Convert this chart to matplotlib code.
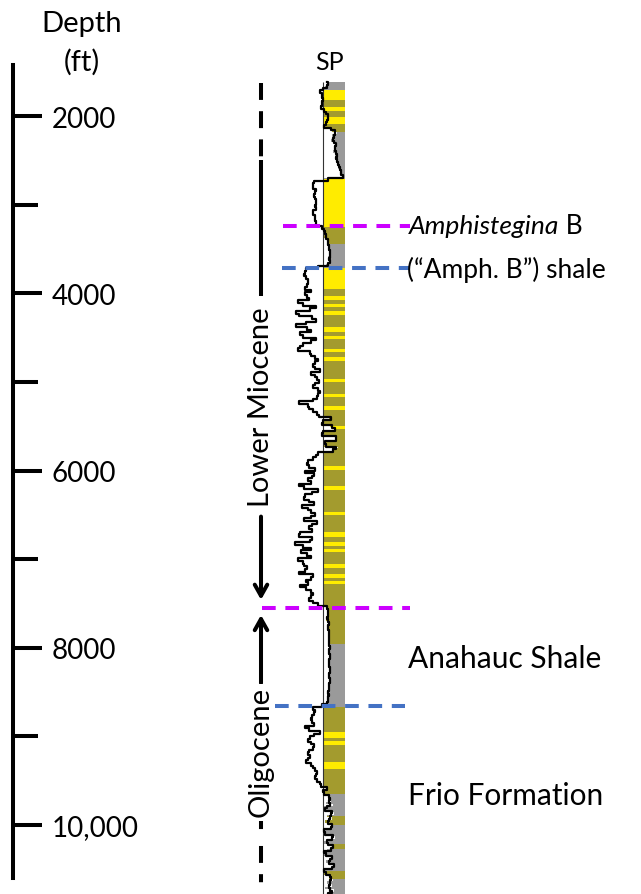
import numpy as np
import matplotlib.pyplot as plt

plt.rcParams['font.family'] = ['Lato', 'DejaVu Sans']

# SP log, sampled every 30 ft from 1620 ft (deflection, mV; negative = sand)
log_top = 1620
log_step = 30
sp = [
    4, 6, 2, -2, -4, 1, -3, 3, -5, 2,
    -6, 8, -3, 12, -2, 10, -4, 6, 9, 14,
    9, 12, 8, 14, 11, 13, 10, 15, 12, 14,
    13, 16, 15, 18, 17, 19, 20, -10, -8, -12,
    -9, -5, -12, -7, -10, -4, -11, -6, -8, -13,
    -7, -10, -6, -9, -5, 2, -1, 4, 1, 5,
    4, 6, 5, 7, 6, 8, 5, 7, 6, 3,
    -14, -20, -16, -22, -13, -18, -12, -21, -15, -10,
    -26, -6, -22, -28, -12, -2, -24, -30, -18, -4,
    -10, -25, -29, -4, -20, -27, -14, 0, -24, -17,
    -30, -21, -5, -19, 3, -14, -2, -18, 2, -9,
    -16, -1, -12, 4, -20, 0, -11, 5, -15, 2,
    -22, -27, -4, -24, 3, -15, 6, 9, -10, 7,
    10, 13, -14, 11, 14, 12, -9, 15, 11, 8,
    -18, 3, -24, -6, -27, -1, -15, -21, 2, -25,
    -5, -20, -28, -10, 0, -23, -13, -26, -2, -17,
    -25, -6, -19, 2, -27, -12, -1, -22, -7, -16,
    -30, -19, -3, -24, -32, -8, -17, -28, -4, -21,
    -29, -12, -26, -6, -31, -18, -2, -23, -11, -20,
    -27, -8, -17, -3, -22, -6, -14, 3, 4, 5,
    4, 5, 3, 6, 5, 4, 6, 5, 7, 5,
    6, 5, 7, 6, 5, 6, 7, 6, 5, 6,
    6, 7, 6, 5, 6, 7, 6, 5, 6, 5,
    5, 6, 4, 5, 3, -6, -14, -2, -17, -5,
    -19, -4, -14, -22, -6, -1, -18, -9, -21, -3,
    -16, -5, -23, -7, -19, -12, -22, -3, -17, 0,
    -13, -2, -15, 2, -8, 3, 4, -4, 5, 6,
    8, 3, 10, -3, 6, 11, 4, 9, 2, 7,
    10, 5, -4, 8, 12, 6, 1, 9, 11, 4,
    -2, 7, 10, 3, 9, 12, 5, -3, 8, 6,
    10, 4, 9, 2, 11, 7, 3,
]

# lithology shading intervals (ft)
litho_top = [1620, 1706, 1819, 1898, 1944, 2011, 2090, 2181, 2711, 3253, 3445, 3716, 3953, 7959, 8670, 9652]
litho_base = [1706, 1819, 1898, 1944, 2011, 2090, 2181, 2711, 3253, 3445, 3716, 3953, 7959, 8670, 9652, 10800]
litho_kind = ['shale', 'sand', 'silt', 'sand', 'silt', 'sand', 'silt', 'shale',
              'sand', 'silt', 'shale', 'sand', 'silt', 'shale', 'silt', 'shale']
sand_band_top = [4032, 4123, 4202, 4382, 4484, 4631, 4721, 4969, 5139, 5274, 5500, 5952,
                 6177, 6471, 6697, 6810, 6889, 7058, 7171, 7250, 8955, 9056, 9293]
sand_band_thick = [40, 35, 45, 50, 35, 30, 40, 35, 30, 40, 35, 45,
                   40, 35, 50, 40, 35, 45, 40, 35, 60, 45, 70]
silt_band_top = [9903, 10219, 10524]
silt_band_thick = [100, 50, 80]

# horizons (ft)
amph_b_top = 3240
amph_b_base = 3715
anahuac_top = 7550
frio_top = 8655

depth_ticks = [2000, 4000, 6000, 8000, 10000]
depth_tick_labels = ['2000', '4000', '6000', '8000', '10,000']
depth_minor = [3000, 5000, 7000, 9000]

colors = {'sand': '#FFEC00', 'silt': '#A39B2E', 'shale': '#9A9A9A'}
magenta = '#CC00FF'
blue = '#4472C4'

W, H = 641, 895
px_per_ft = (826 - 117) / 8000
d_top = 2000 - 117 / px_per_ft
d_bot = 2000 + (H - 117) / px_per_ft

sp = np.array(sp, dtype=float)
depth = log_top + log_step * np.arange(len(sp))

fig = plt.figure(figsize=(W / 100, H / 100), dpi=100)

# depth scale
ax_d = fig.add_axes([13 / W, 0, 30 / W, 1])
ax_d.set_ylim(d_bot, d_top)
for s in ['top', 'right', 'bottom']:
    ax_d.spines[s].set_visible(False)
ax_d.spines['left'].set_linewidth(2.9)
ax_d.spines['left'].set_bounds(1420, 10600)
ax_d.set_xticks([])
ax_d.set_yticks(depth_ticks)
ax_d.set_yticklabels(depth_tick_labels)
ax_d.set_yticks(depth_minor, minor=True)
ax_d.tick_params(axis='y', which='both', direction='in', left=True, right=False,
                 labelleft=False, labelright=True, width=2.9, pad=6, labelsize=20)
ax_d.tick_params(axis='y', which='major', length=21)
ax_d.tick_params(axis='y', which='minor', length=18)
ax_d.patch.set_alpha(0)

# SP track
ax_t = fig.add_axes([283 / W, 0, 67 / W, 1])
ax_t.set_xlim(-40, 27)
ax_t.set_ylim(d_bot, d_top)
ax_t.axis('off')
for t, b, k in zip(litho_top, litho_base, litho_kind):
    ax_t.fill_betweenx([t, b], 0, 22, color=colors[k], lw=0)
for t, th in zip(sand_band_top, sand_band_thick):
    ax_t.fill_betweenx([t, t + th], 0, 22, color=colors['sand'], lw=0)
for t, th in zip(silt_band_top, silt_band_thick):
    ax_t.fill_betweenx([t, t + th], 0, 22, color=colors['silt'], lw=0)
ax_t.fill_betweenx(depth, 0, sp, where=sp > 0, step='mid', color='white', lw=0)
ax_t.vlines(0, depth[0], depth[-1], color='#333333', lw=0.8)
ax_t.plot(sp, depth, color='black', lw=1.6, drawstyle='steps-mid')

# overlay for horizons and labels
ax_o = fig.add_axes([0, 0, 1, 1])
ax_o.set_xlim(0, W)
ax_o.set_ylim(d_bot, d_top)
ax_o.axis('off')
ax_o.patch.set_alpha(0)

hz_style = dict(lw=2.9, linestyle=(0, (3.4, 2.4)))
ax_o.hlines(amph_b_top, 283, 410, color=magenta, **hz_style)
ax_o.hlines(amph_b_base, 282, 410, color=blue, **hz_style)
ax_o.hlines(anahuac_top, 262, 410, color=magenta, **hz_style)
ax_o.hlines(frio_top, 275, 405, color=blue, **hz_style)

# epoch brackets
ep_x = 261
arrow = dict(arrowstyle='->,head_length=0.8,head_width=0.45', lw=2.9, color='black',
             shrinkA=0, shrinkB=0)
ax_o.vlines(ep_x, 1630, 2500, color='black', lw=2.9, linestyle=(0, (4.2, 2.8)))
ax_o.vlines(ep_x, 2500, 4030, color='black', lw=2.9)
ax_o.annotate('', xy=(ep_x, anahuac_top - 90), xytext=(ep_x, 6520), arrowprops=arrow)
ax_o.annotate('', xy=(ep_x, anahuac_top + 80), xytext=(ep_x, 8400), arrowprops=arrow)
ax_o.vlines(ep_x, 9960, d_bot, color='black', lw=2.9, linestyle=(0, (2.0, 4.2, 4.2, 2.8)))
ax_o.text(ep_x, 5270, 'Lower Miocene', rotation=90, ha='center', va='center', fontsize=21,
          bbox=dict(facecolor='white', edgecolor='none', pad=1))
ax_o.text(ep_x, 9160, 'Oligocene', rotation=90, ha='center', va='center', fontsize=21,
          bbox=dict(facecolor='white', edgecolor='none', pad=1))

# labels
t1 = ax_o.text(409, amph_b_top, 'Amphistegina', ha='left', va='center', fontsize=19,
               fontstyle='italic')
ax_o.annotate(' B', xy=(1, 0.5), xycoords=t1, ha='left', va='center', fontsize=19)
ax_o.text(407, amph_b_base + 10, '(\u201cAmph. B\u201d) shale', ha='left', va='center', fontsize=19)
ax_o.text(408, 8116, 'Anahauc Shale', ha='left', va='center', fontsize=21.5)
ax_o.text(408, 9661, 'Frio Formation', ha='left', va='center', fontsize=21.5)

fig.text(82 / W, 1 - 24 / H, 'Depth', ha='center', va='center', fontsize=21)
fig.text(82 / W, 1 - 62 / H, '(ft)', ha='center', va='center', fontsize=21)
fig.text(329 / W, 1 - 62 / H, 'SP', ha='center', va='center', fontsize=18)

fig.savefig('out.png', dpi=100)
